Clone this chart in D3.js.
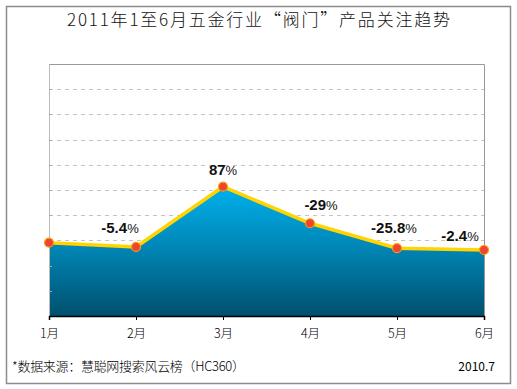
<!DOCTYPE html>
<html>
<head>
<meta charset="utf-8">
<script src="https://cdn.jsdelivr.net/npm/d3@7"></script>
<style>
  body { margin: 0; background: #fff; }
  svg text { font-family: "Noto Sans CJK SC", sans-serif; }
</style>
</head>
<body>
<div id="chart"></div>
<script>
// 月份 / 关注指数 / 环比
const months = ["1月", "2月", "3月", "4月", "5月", "6月"];
const values = [29.1, 27.4, 51.3, 36.8, 26.9, 26.2];
const changes = [null, "-5.4", "87", "-29", "-25.8", "-2.4"];
const yTicks = [0, 10, 20, 30, 40, 50, 60, 70, 80, 90, 100];

const titleText = "2011年1至6月五金行业“阀门”产品关注趋势";
const sourceText = "*数据来源：慧聪网搜索风云榜（HC360）";
const dateText = "2010.7";

// label nudges, px (dx, dy from point)
const labelNudge = [null, [-16, -14], [0, -12], [11, -13], [-3, -15], [-24, -9]];

const W = 517, H = 389;
const margin = {top: 64, right: 33, bottom: 73, left: 49};
const width = W - margin.left - margin.right,
      height = H - margin.top - margin.bottom;

const svg = d3.select("#chart").append("svg")
  .attr("width", W).attr("height", H);

// outer frame
svg.append("rect")
  .attr("x", 6.5).attr("y", 6.5).attr("width", 504).attr("height", 377)
  .attr("fill", "none").attr("stroke", "#8c8c8c").attr("stroke-width", 1.5);

svg.append("text")
  .attr("x", 67).attr("y", 26)
  .attr("font-size", 17)
  .attr("font-weight", 300)
  .attr("textLength", 383)
  .attr("lengthAdjust", "spacing")
  .attr("fill", "#111")
  .text(titleText);

const g = svg.append("g")
  .attr("transform", "translate(" + margin.left + "," + margin.top + ")");

const x = d3.scalePoint().domain(months).range([0, width]);
const y = d3.scaleLinear().domain([0, 100]).range([height, 0]);

// gridlines
g.selectAll(".grid")
  .data(yTicks.slice(1, -1))
  .enter().append("line")
  .attr("x1", 0).attr("x2", width)
  .attr("y1", d => Math.round(y(d)) + 0.5).attr("y2", d => Math.round(y(d)) + 0.5)
  .attr("stroke", "#c4c4c4")
  .attr("stroke-dasharray", "4,4");

// plot border top / right
g.append("path")
  .attr("d", "M0,0.5H" + (width + 0.5) + "V" + height)
  .attr("fill", "none").attr("stroke", "#999").attr("stroke-width", 1);

// gradient
const defs = svg.append("defs");
const grad = defs.append("linearGradient")
  .attr("id", "areaGrad")
  .attr("gradientUnits", "userSpaceOnUse")
  .attr("x1", 0).attr("x2", 0)
  .attr("y1", y(d3.max(values))).attr("y2", y(0));
grad.append("stop").attr("offset", "0%").attr("stop-color", "#00b0ec");
grad.append("stop").attr("offset", "45%").attr("stop-color", "#0088b8");
grad.append("stop").attr("offset", "100%").attr("stop-color", "#00506e");

const area = d3.area()
  .x((d, i) => x(months[i]))
  .y0(y(0))
  .y1(d => y(d));
g.append("path")
  .datum(values)
  .attr("d", area)
  .attr("fill", "url(#areaGrad)");

// left axis (inner ticks)
g.append("line")
  .attr("x1", 0.5).attr("x2", 0.5).attr("y1", 0).attr("y2", height)
  .attr("stroke", "#bbb");
g.selectAll(".ytick")
  .data(yTicks.slice(1, -1))
  .enter().append("line")
  .attr("x1", 0).attr("x2", 3)
  .attr("y1", d => Math.round(y(d)) + 0.5).attr("y2", d => Math.round(y(d)) + 0.5)
  .attr("stroke", "#aaa");

// bottom axis
const xAxis = g.append("g")
  .attr("transform", "translate(0," + height + ")")
  .call(d3.axisBottom(x).tickSize(4).tickPadding(9));
xAxis.select(".domain").attr("stroke", "#000").attr("stroke-width", 1.5);
xAxis.selectAll(".tick line").attr("stroke", "#000");
xAxis.selectAll(".tick text")
  .attr("font-family", "Noto Sans CJK SC")
  .attr("font-weight", 300)
  .attr("font-size", 12.5)
  .attr("fill", "#000");

// line
const line = d3.line()
  .x((d, i) => x(months[i]))
  .y(d => y(d));
g.append("path")
  .datum(values)
  .attr("d", line)
  .attr("fill", "none")
  .attr("stroke", "#ffd400")
  .attr("stroke-width", 3.5)
  .attr("stroke-linejoin", "round");

// markers
g.selectAll(".dot")
  .data(values)
  .enter().append("circle")
  .attr("cx", (d, i) => x(months[i]))
  .attr("cy", d => y(d))
  .attr("r", 4.5)
  .attr("fill", "#ee4435")
  .attr("stroke", "#ffa200")
  .attr("stroke-width", 1.2);

// change labels
const labelData = months
  .map((m, i) => ({m: m, v: values[i], c: changes[i], n: labelNudge[i]}))
  .filter(d => d.c !== null);

const lab = g.selectAll(".lab")
  .data(labelData)
  .enter().append("text")
  .attr("x", d => x(d.m) + d.n[0])
  .attr("y", d => y(d.v) + d.n[1])
  .attr("text-anchor", "middle")
  .attr("fill", "#111");
lab.append("tspan")
  .attr("font-family", "Liberation Sans Narrow, Liberation Sans, sans-serif")
  .attr("font-weight", "bold")
  .attr("font-size", 15)
  .text(d => d.c);
lab.append("tspan")
  .attr("font-family", "Liberation Sans Narrow, Liberation Sans, sans-serif")
  .attr("font-size", 13)
  .text("%");

// footer
svg.append("text")
  .attr("x", 12).attr("y", 371)
  .attr("font-size", 13)
  .attr("font-weight", 300)
  .attr("textLength", 233)
  .attr("lengthAdjust", "spacing")
  .attr("fill", "#000")
  .text(sourceText);
svg.append("text")
  .attr("x", 495).attr("y", 371)
  .attr("text-anchor", "end")
  .attr("font-family", "DejaVu Sans Mono, monospace")
  .attr("font-size", 12)
  .attr("fill", "#000")
  .text(dateText);
</script>
</body>
</html>
